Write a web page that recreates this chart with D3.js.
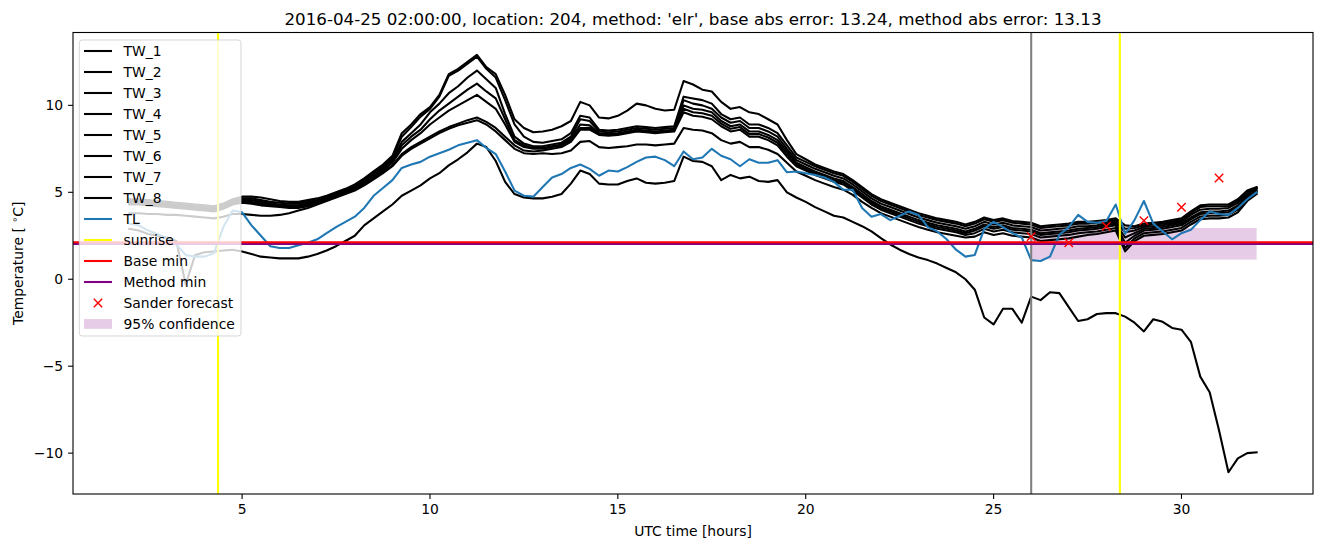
<!DOCTYPE html>
<html><head><meta charset="utf-8">
<script src="https://cdn.jsdelivr.net/npm/d3@7"></script>
<style>body{margin:0;background:#fff} svg{display:block} text{font-family:"DejaVu Sans",sans-serif;fill:#000}</style>
</head><body><svg id="c" width="1322" height="547"></svg>
<script>
const hours = [2,2.25,2.5,2.75,3,3.25,3.5,3.75,4,4.25,4.5,4.75,5,5.25,5.5,5.75,6,6.25,6.5,6.75,7,7.25,7.5,7.75,8,8.25,8.5,8.75,9,9.25,9.5,9.75,10,10.25,10.5,10.75,11,11.25,11.5,11.75,12,12.25,12.5,12.75,13,13.25,13.5,13.75,14,14.25,14.5,14.75,15,15.25,15.5,15.75,16,16.25,16.5,16.75,17,17.25,17.5,17.75,18,18.25,18.5,18.75,19,19.25,19.5,19.75,20,20.25,20.5,20.75,21,21.25,21.5,21.75,22,22.25,22.5,22.75,23,23.25,23.5,23.75,24,24.25,24.5,24.75,25,25.25,25.5,25.75,26,26.25,26.5,26.75,27,27.25,27.5,27.75,28,28.25,28.5,28.75,29,29.25,29.5,29.75,30,30.25,30.5,30.75,31,31.25,31.5,31.75,32];

const TW_1 = [4.60,4.60,4.55,4.50, 4.45,4.40,4.35,4.30, 4.25,4.20,4.35,4.60, 4.75,4.75,4.70,4.60, 4.50,4.45,4.45,4.55, 4.65,4.80,5.00,5.20, 5.45,5.80,6.20,6.60, 7.10,8.40,8.90,9.50, 9.90,10.60,11.80,12.10, 12.50,12.90,12.20,11.80, 10.60,9.20,8.70,8.45, 8.50,8.60,8.80,9.10, 10.20,10.00,9.30,9.25, 9.40,9.70,10.10,10.00, 9.80,9.70,9.75,11.40, 11.20,10.90,10.80,10.20, 9.80,9.90,9.60,9.50, 9.20,8.90,8.00,7.20, 6.90,6.60,6.40,6.20, 6.05,5.70,5.30,4.90, 4.60,4.40,4.20,4.00, 3.80,3.65,3.50,3.40, 3.30,3.15,3.30,3.55, 3.40,3.50,3.35,3.30, 3.25,3.05,3.10,3.15, 3.20,3.30,3.30,3.35, 3.40,3.50,3.10,3.05, 3.20,3.25,3.30,3.40, 3.50,3.90,4.25,4.30, 4.30,4.30,4.60,5.10, 5.30];
const TW_2 = [4.50,4.50,4.45,4.40, 4.35,4.30,4.25,4.20, 4.15,4.10,4.25,4.50, 4.65,4.65,4.55,4.45, 4.40,4.35,4.35,4.45, 4.55,4.75,4.95,5.15, 5.35,5.70,6.10,6.50, 7.00,8.20,8.75,9.35, 9.80,10.50,11.70,12.00, 12.40,12.80,12.10,11.60, 10.30,8.90,8.20,7.90, 7.85,7.95,8.05,8.40, 9.40,9.30,8.60,8.55, 8.60,8.70,8.80,8.75, 8.70,8.75,8.80,10.50, 10.40,10.30,10.10,9.50, 9.20,9.30,8.90,8.90, 8.70,8.40,7.70,7.00, 6.75,6.50,6.30,6.10, 5.95,5.60,5.20,4.80, 4.50,4.30,4.10,3.90, 3.70,3.55,3.40,3.30, 3.20,3.05,3.20,3.45, 3.30,3.40,3.25,3.20, 3.15,2.95,3.00,3.05, 3.10,3.20,3.20,3.25, 3.30,3.40,2.90,2.95, 3.10,3.15,3.20,3.30, 3.40,3.80,4.15,4.20, 4.20,4.20,4.50,5.00, 5.25];
const TW_3 = [4.45,4.45,4.40,4.35, 4.30,4.25,4.20,4.15, 4.10,4.05,4.20,4.45, 4.55,4.55,4.45,4.35, 4.30,4.25,4.25,4.35, 4.50,4.70,4.90,5.10, 5.30,5.65,6.00,6.40, 6.90,7.90,8.40,8.90, 9.60,10.10,10.70,11.10, 11.60,12.00,11.50,11.00, 9.50,8.20,7.80,7.65, 7.65,7.75,7.85,8.20, 9.20,9.10,8.50,8.45, 8.50,8.60,8.70,8.65, 8.60,8.65,8.70,10.30, 10.10,10.00,9.80,9.30, 9.00,9.10,8.70,8.70, 8.50,8.20,7.50,6.85, 6.60,6.35,6.15,5.95, 5.80,5.45,5.05,4.65, 4.35,4.15,3.95,3.75, 3.55,3.40,3.25,3.15, 3.05,2.90,3.05,3.30, 3.15,3.25,3.10,3.05, 3.00,2.80,2.85,2.90, 2.95,3.05,3.05,3.10, 3.20,3.30,2.70,2.80, 3.00,3.05,3.10,3.20, 3.30,3.70,4.00,4.05, 4.05,4.10,4.40,4.90, 5.20];
const TW_4 = [4.40,4.40,4.35,4.30, 4.25,4.20,4.15,4.10, 4.05,4.00,4.15,4.40, 4.50,4.45,4.35,4.30, 4.25,4.20,4.20,4.30, 4.45,4.65,4.85,5.05, 5.25,5.55,5.90,6.30, 6.80,7.70,8.20,8.60, 9.20,9.70,10.10,10.50, 10.90,11.25,10.80,10.40, 9.20,8.00,7.70,7.55, 7.55,7.65,7.75,8.10, 8.90,8.85,8.40,8.35, 8.40,8.50,8.60,8.55, 8.50,8.55,8.60,10.00, 9.80,9.75,9.60,9.10, 8.80,8.90,8.50,8.50, 8.30,8.00,7.35,6.70, 6.45,6.20,6.00,5.80, 5.65,5.30,4.90,4.50, 4.20,4.00,3.80,3.60, 3.40,3.25,3.10,3.00, 2.90,2.75,2.90,3.15, 3.00,3.10,2.95,2.90, 2.85,2.65,2.70,2.75, 2.80,2.90,2.95,3.00, 3.10,3.20,2.40,2.65, 2.90,2.95,3.00,3.10, 3.20,3.55,3.85,3.90, 3.90,3.95,4.25,4.80, 5.10];
const TW_5 = [4.35,4.35,4.30,4.25, 4.20,4.15,4.10,4.05, 4.00,3.95,4.10,4.35, 4.45,4.40,4.30,4.25, 4.20,4.15,4.15,4.25, 4.40,4.60,4.80,5.00, 5.20,5.50,5.85,6.25, 6.70,7.50,8.00,8.40, 8.90,9.30,9.70,10.00, 10.30,10.60,10.20,9.80, 8.90,7.90,7.60,7.50, 7.50,7.60,7.70,8.00, 8.70,8.70,8.35,8.30, 8.35,8.45,8.55,8.50, 8.45,8.50,8.55,9.80, 9.60,9.55,9.40,8.95, 8.65,8.75,8.35,8.35, 8.15,7.85,7.20,6.60, 6.35,6.10,5.90,5.70, 5.55,5.20,4.80,4.40, 4.10,3.90,3.70,3.50, 3.30,3.15,3.00,2.90, 2.80,2.65,2.80,3.05, 2.90,3.00,2.85,2.80, 2.75,2.55,2.60,2.65, 2.70,2.80,2.85,2.90, 3.00,3.10,2.10,2.50, 2.80,2.85,2.90,3.00, 3.10,3.45,3.75,3.80, 3.80,3.85,4.15,4.70, 5.05];
const TW_6 = [4.30,4.30,4.25,4.20, 4.15,4.10,4.05,4.00, 3.95,3.90,4.05,4.30, 4.40,4.35,4.25,4.20, 4.15,4.10,4.10,4.20, 4.35,4.55,4.75,4.95, 5.15,5.45,5.80,6.15, 6.55,7.20,7.60,7.90, 8.20,8.50,8.75,8.95, 9.15,9.30,9.05,8.70, 8.20,7.70,7.40,7.35, 7.40,7.50,7.60,7.90, 8.60,8.60,8.30,8.25, 8.30,8.40,8.50,8.45, 8.40,8.45,8.50,9.60, 9.40,9.35,9.20,8.80, 8.50,8.60,8.20,8.20, 8.00,7.70,7.05,6.50, 6.25,6.00,5.80,5.60, 5.45,5.10,4.70,4.30, 4.00,3.80,3.60,3.40, 3.20,3.05,2.90,2.80, 2.70,2.55,2.65,2.90, 2.75,2.85,2.70,2.65, 2.60,2.40,2.45,2.50, 2.55,2.65,2.70,2.75, 2.85,2.95,1.80,2.35, 2.65,2.70,2.75,2.85, 2.95,3.30,3.60,3.65, 3.65,3.70,4.00,4.60, 5.00];
const TW_7 = [3.80,3.80,3.75,3.75, 3.70,3.70,3.65,3.60, 3.55,3.50,3.60,3.75, 3.75,3.70,3.65,3.65, 3.70,3.80,3.95,4.10, 4.30,4.50,4.70,4.90, 5.10,5.40,5.75,6.10, 6.50,7.10,7.50,7.80, 8.10,8.40,8.65,8.85, 9.00,9.15,8.90,8.50, 8.00,7.50,7.25,7.20, 7.25,7.20,7.25,7.40, 7.90,7.95,7.60,7.55, 7.60,7.65,7.75,7.75, 7.70,7.75,7.80,8.70, 8.60,8.55,8.40,8.00, 7.80,7.90,7.60,7.60, 7.45,7.20,6.70,6.20, 5.95,5.70,5.50,5.30, 5.15,4.85,4.45,4.10, 3.80,3.60,3.40,3.20, 3.00,2.85,2.70,2.60, 2.50,2.40,2.45,2.70, 2.55,2.65,2.50,2.45, 2.40,2.20,2.25,2.30, 2.35,2.45,2.55,2.60, 2.70,2.80,1.60,2.20, 2.50,2.55,2.60,2.70, 2.80,3.15,3.45,3.50, 3.50,3.55,3.85,4.50, 4.90];
const TW_8 = [2.90,2.80,2.60,2.50, 2.40,2.20,-0.30,1.40, 1.55,1.60,1.65,1.70, 1.60,1.45,1.30,1.25, 1.20,1.20,1.20,1.30, 1.45,1.65,1.90,2.20, 2.50,3.10,3.50,3.90, 4.30,4.80,5.10,5.40, 5.80,6.10,6.55,6.90, 7.30,7.80,7.60,6.80, 5.60,4.90,4.70,4.65, 4.65,4.75,4.90,5.50, 6.25,6.05,5.50,5.45, 5.45,5.65,5.80,5.55, 5.50,5.55,5.65,7.05, 6.80,6.75,6.50,5.70, 6.00,5.80,5.90,5.65, 5.60,5.70,5.00,4.70, 4.45,4.15,3.90,3.65, 3.55,3.30,3.05,2.75, 2.36,2.00,1.70,1.45, 1.25,1.10,0.90,0.65, 0.40,0.00,-0.60,-2.20, -2.60,-1.70,-1.70,-2.50, -1.00,-1.20,-0.75,-0.80, -1.60,-2.40,-2.30,-2.00, -1.95,-1.95,-2.15,-2.50, -3.00,-2.30,-2.45,-2.80, -2.90,-3.60,-5.60,-6.50, -8.70,-11.10,-10.30,-10.00, -9.95];
const TL = [3.20,3.10,2.80,2.60, 2.35,2.00,1.40,1.30, 1.30,1.50,3.00,3.95, 3.85,3.10,2.50,1.90, 1.80,1.80,1.95,2.10, 2.30,2.65,3.00,3.30, 3.60,4.10,4.80,5.25, 5.70,6.40,6.60,6.75, 7.05,7.25,7.45,7.70, 7.85,8.00,7.55,7.20, 6.20,5.10,4.80,4.75, 5.30,5.85,6.05,6.40, 6.60,6.35,5.95,6.25, 6.20,6.45,6.75,7.00, 7.05,6.85,6.50,7.35, 6.90,7.00,7.50,7.10, 6.90,6.50,6.90,6.70, 6.70,6.85,6.15,6.20, 6.10,6.00,5.85,5.60, 5.15,5.15,4.10,3.60, 3.75,3.40,3.65,3.90, 3.70,3.00,2.75,2.30, 1.70,1.30,1.40,2.90, 3.30,3.00,2.65,2.40, 1.10,1.05,1.30,2.55, 3.00,3.70,3.30,3.25, 3.35,4.30,2.60,3.40, 4.50,3.20,2.75,2.30, 2.65,2.85,3.40,3.90, 3.75,3.70,4.10,4.60, 5.00];

const twSeries = [TW_1, TW_2, TW_3, TW_4, TW_5, TW_6, TW_7, TW_8];
const sunriseHours = [4.36, 28.36];
const nowHour = 26;
const baseMin = 2.13;
const methodMin = 2.03;
const sanderHours = [26, 27, 28, 29, 30, 31];
const sanderValues = [2.45, 2.10, 3.05, 3.37, 4.14, 5.82];
const confStart = 26, confEnd = 32, confLow = 1.13, confHigh = 2.95;
const xTicks = [5, 10, 15, 20, 25, 30];
const yTicks = [-10, -5, 0, 5, 10];
const legendLabels = ["TW_1","TW_2","TW_3","TW_4","TW_5","TW_6","TW_7","TW_8","TL","sunrise","Base min","Method min","Sander forecast","95% confidence"];
const titleText = "2016-04-25 02:00:00, location: 204, method: 'elr', base abs error: 13.24, method abs error: 13.13";

const svg = d3.select("#c");
const m = {l: 73, r: 1313, t: 32.5, b: 494};
const x = d3.scaleLinear().domain([0.5, 33.5]).range([m.l, m.r]);
const y = d3.scaleLinear().domain([-12.35, 14.19]).range([m.b, m.t]);
const LW = 2.08;

svg.append("defs").append("clipPath").attr("id", "clip")
  .append("rect").attr("x", m.l).attr("y", m.t).attr("width", m.r - m.l).attr("height", m.b - m.t);
const plot = svg.append("g").attr("clip-path", "url(#clip)");

plot.append("rect")
  .attr("x", x(confStart)).attr("width", x(confEnd) - x(confStart))
  .attr("y", y(confHigh)).attr("height", y(confLow) - y(confHigh))
  .attr("fill", "purple").attr("fill-opacity", 0.2);

const line = d3.line().x((d, i) => x(hours[i])).y(d => y(d));
twSeries.forEach(s => {
  plot.append("path").attr("d", line(s)).attr("fill", "none").attr("stroke", "#000")
    .attr("stroke-width", LW).attr("stroke-linejoin", "round").attr("stroke-linecap", "square");
});
plot.append("path").attr("d", line(TL)).attr("fill", "none").attr("stroke", "#1f77b4")
  .attr("stroke-width", LW).attr("stroke-linejoin", "round").attr("stroke-linecap", "square");

sunriseHours.forEach(h => {
  plot.append("line").attr("x1", x(h)).attr("x2", x(h)).attr("y1", m.t).attr("y2", m.b)
    .attr("stroke", "yellow").attr("stroke-width", LW);
});
plot.append("line").attr("x1", x(nowHour)).attr("x2", x(nowHour)).attr("y1", m.t).attr("y2", m.b)
  .attr("stroke", "grey").attr("stroke-width", LW);
plot.append("line").attr("x1", m.l).attr("x2", m.r).attr("y1", y(methodMin)).attr("y2", y(methodMin))
  .attr("stroke", "purple").attr("stroke-width", LW);
plot.append("line").attr("x1", m.l).attr("x2", m.r).attr("y1", y(baseMin)).attr("y2", y(baseMin))
  .attr("stroke", "red").attr("stroke-width", LW);

function xMark(g, cx, cy) {
  const s = 4.2;
  g.append("path").attr("d", `M${cx - s},${cy - s}L${cx + s},${cy + s}M${cx - s},${cy + s}L${cx + s},${cy - s}`)
    .attr("stroke", "red").attr("stroke-width", 1.4).attr("fill", "none");
}
sanderHours.forEach((h, i) => xMark(plot, x(h), y(sanderValues[i])));

svg.append("rect").attr("x", m.l).attr("y", m.t).attr("width", m.r - m.l).attr("height", m.b - m.t)
  .attr("fill", "none").attr("stroke", "#000").attr("stroke-width", 1.1);

const fs = 13.9;
xTicks.forEach(t => {
  svg.append("line").attr("x1", x(t)).attr("x2", x(t)).attr("y1", m.b).attr("y2", m.b + 4.9).attr("stroke", "#000").attr("stroke-width", 1.1);
  svg.append("text").attr("x", x(t)).attr("y", m.b + 9.8).attr("dy", "0.76em").attr("text-anchor", "middle")
    .attr("font-size", fs).text(t);
});
yTicks.forEach(t => {
  svg.append("line").attr("x1", m.l - 4.9).attr("x2", m.l).attr("y1", y(t)).attr("y2", y(t)).attr("stroke", "#000").attr("stroke-width", 1.1);
  svg.append("text").attr("x", m.l - 9.8).attr("y", y(t)).attr("dy", "0.36em").attr("text-anchor", "end")
    .attr("font-size", fs).text(t < 0 ? "\u2212" + Math.abs(t) : t);
});

svg.append("text").attr("x", (m.l + m.r) / 2).attr("y", 536).attr("text-anchor", "middle")
  .attr("font-size", fs).text("UTC time [hours]");
const yl = svg.append("text").attr("transform", `translate(23,${(m.t + m.b) / 2}) rotate(-90)`)
  .attr("text-anchor", "middle").attr("font-size", fs);
yl.append("tspan").text("Temperature [ ");
yl.append("tspan").attr("font-size", fs * 0.7).attr("dy", -5).text("\u2218");
yl.append("tspan").attr("dy", 5).text("C]");

svg.append("text").attr("x", (m.l + m.r) / 2).attr("y", 24.5).attr("text-anchor", "middle")
  .attr("font-size", 16.7).text(titleText);

const lg = svg.append("g");
lg.append("rect").attr("x", 79.3).attr("y", 40).attr("width", 161.7).attr("height", 296).attr("rx", 2.8)
  .attr("fill", "#fff").attr("fill-opacity", 0.8).attr("stroke", "#ccc").attr("stroke-opacity", 0.8).attr("stroke-width", 1);
const legendColors = ["#000","#000","#000","#000","#000","#000","#000","#000","#1f77b4","yellow","red","purple","red","purple"];
legendLabels.forEach((lab, i) => {
  const cy = 51 + i * 21;
  if (i < 12) {
    lg.append("line").attr("x1", 84).attr("x2", 112).attr("y1", cy).attr("y2", cy)
      .attr("stroke", legendColors[i]).attr("stroke-width", LW);
  } else if (i === 12) {
    xMark(lg, 98, cy);
  } else {
    lg.append("rect").attr("x", 84).attr("y", cy - 4.9).attr("width", 28).attr("height", 9.7)
      .attr("fill", "purple").attr("fill-opacity", 0.2);
  }
  lg.append("text").attr("x", 123.5).attr("y", cy).attr("dy", "0.36em").attr("font-size", fs).text(lab);
});
</script></body></html>
